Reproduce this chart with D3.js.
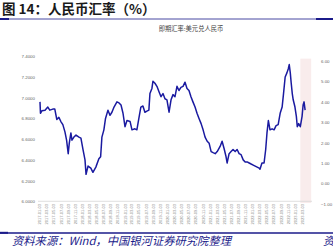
<!DOCTYPE html>
<html>
<head>
<meta charset="utf-8">
<script src="https://cdn.jsdelivr.net/npm/d3@7"></script>
<style>
  html, body { margin: 0; padding: 0; background: #fff; }
  svg { display: block; }
</style>
</head>
<body>
<div id="chart"></div>
<script>
// 即期汇率:美元兑人民币
var dates = [
  "2017-01-03","2017-01-07","2017-01-20","2017-02-15","2017-03-11","2017-03-28","2017-04-23","2017-05-10",
  "2017-05-27","2017-06-14","2017-07-01","2017-07-18","2017-08-05","2017-08-19","2017-09-02","2017-09-11",
  "2017-09-25","2017-10-04","2017-10-21","2017-11-08","2017-12-03","2017-12-20","2018-01-07","2018-01-24",
  "2018-02-02","2018-02-19","2018-03-15","2018-04-02","2018-04-27","2018-05-23","2018-06-07","2018-06-18",
  "2018-07-05","2018-07-19","2018-08-09","2018-08-26","2018-09-12","2018-09-30","2018-10-25","2018-11-12",
  "2018-11-29","2018-12-16","2019-01-02","2019-01-19","2019-02-15","2019-03-03","2019-03-28","2019-04-14",
  "2019-05-01","2019-05-18","2019-06-05","2019-06-22","2019-07-09","2019-07-26","2019-08-04","2019-08-21",
  "2019-08-30","2019-09-16","2019-10-03","2019-10-20","2019-11-07","2019-11-24","2019-12-11","2019-12-28",
  "2020-01-15","2020-02-01","2020-02-18","2020-03-06","2020-03-23","2020-04-09","2020-04-26","2020-05-14",
  "2020-05-31","2020-06-17","2020-07-04","2020-07-21","2020-08-07","2020-08-25","2020-09-11","2020-09-28",
  "2020-10-16","2020-11-02","2020-11-19","2020-12-07","2020-12-24","2021-01-10","2021-01-27","2021-02-14",
  "2021-03-03","2021-03-28","2021-04-14","2021-05-01","2021-05-18","2021-05-27","2021-06-13","2021-06-30",
  "2021-07-17","2021-08-04","2021-08-21","2021-09-07","2021-09-24","2021-10-12","2021-10-29","2021-11-15",
  "2021-12-02","2021-12-19","2022-01-06","2022-01-23","2022-02-09","2022-02-26","2022-03-05","2022-03-22",
  "2022-04-09","2022-04-23","2022-05-04","2022-05-16","2022-05-30","2022-06-17","2022-07-04","2022-07-21",
  "2022-08-08","2022-08-25","2022-09-11","2022-09-23","2022-10-07","2022-10-22","2022-11-03","2022-11-11",
  "2022-11-20","2022-11-28","2022-12-07","2022-12-15","2022-12-30","2023-01-11","2023-01-19","2023-01-31",
  "2023-02-14","2023-03-01","2023-03-10","2023-03-18","2023-03-27"
];
var rates = [
  6.96,6.85,6.875,6.88,6.91,6.88,6.89,6.89,
  6.79,6.81,6.77,6.74,6.67,6.59,6.46,6.56,
  6.66,6.59,6.62,6.64,6.62,6.61,6.50,6.40,
  6.26,6.34,6.32,6.28,6.33,6.41,6.43,6.62,
  6.69,6.80,6.88,6.83,6.86,6.91,6.96,6.95,
  6.93,6.85,6.72,6.78,6.77,6.69,6.70,6.69,
  6.80,6.91,6.92,6.86,6.87,6.88,7.04,7.09,
  7.16,7.14,7.11,7.06,7.01,7.04,6.99,6.98,
  6.86,6.98,7.03,7.01,7.11,7.07,7.10,7.11,
  7.15,7.09,7.07,7.01,6.96,6.91,6.85,6.80,
  6.75,6.69,6.62,6.58,6.56,6.48,6.47,6.46,
  6.48,6.53,6.58,6.51,6.43,6.37,6.46,6.48,
  6.50,6.48,6.50,6.46,6.45,6.40,6.38,6.38,
  6.37,6.36,6.35,6.34,6.33,6.32,6.31,6.37,
  6.37,6.50,6.66,6.78,6.69,6.70,6.69,6.73,
  6.74,6.85,6.91,7.04,7.20,7.24,7.28,7.32,
  7.24,7.14,7.04,6.98,6.91,6.82,6.72,6.75,
  6.72,6.82,6.93,6.96,6.88
];
var xTickLabels = [];
var leftTicks = [6.0, 6.2, 6.4, 6.6, 6.8, 7.0, 7.2, 7.4];
var rightTicks = [-1, 0, 1, 2, 3, 4, 5, 6];
var shadeRange = ["2023-02-14", "2023-05-18"];
(function () {
  // 2017-01-03 起每两个月一个刻度
  for (var i = 0; i < 38; i++) {
    var m = i * 2, y = 2017 + Math.floor(m / 12), mm = (m % 12) + 1;
    xTickLabels.push(y + "-" + (mm < 10 ? "0" + mm : mm) + "-03");
  }
})();

var width = 333, height = 247;
var parse = d3.timeParse("%Y-%m-%d");
var navy = "#1b1b8a";

var svg = d3.select("#chart").append("svg")
  .attr("width", width)
  .attr("height", height);

// 标题
svg.append("text")
  .attr("x", 2).attr("y", 14)
  .style("font-family", "'Noto Sans CJK SC', sans-serif")
  .style("font-weight", "bold")
  .style("font-size", "13.5px")
  .style("fill", "#1a1a1a")
  .text("图 14：人民币汇率（%）");

// 标题下分隔线
svg.append("line").attr("x1", 0).attr("x2", width).attr("y1", 19).attr("y2", 19)
  .style("stroke", navy).style("stroke-width", 0.8);
svg.append("line").attr("x1", 0).attr("x2", 9).attr("y1", 19).attr("y2", 19)
  .style("stroke", navy).style("stroke-width", 2);
svg.append("line").attr("x1", 316).attr("x2", width).attr("y1", 19).attr("y2", 19)
  .style("stroke", navy).style("stroke-width", 2);

// 图内标题
svg.append("text")
  .attr("x", 191).attr("y", 31)
  .attr("text-anchor", "middle")
  .style("font-family", "'Noto Sans CJK SC', sans-serif")
  .style("font-size", "6.3px")
  .style("fill", "#444")
  .text("即期汇率:美元兑人民币");

// 比例尺
var x = d3.scaleTime()
  .domain([parse("2017-01-03"), parse("2023-03-03")])
  .range([40, 302.3]);
var yL = d3.scaleLinear().domain([6.0, 7.4]).range([201.3, 56.3]);
var yR = d3.scaleLinear().domain([-1, 6]).range([204, 60.7]);

// 阴影区域
svg.append("rect")
  .attr("x", x(parse(shadeRange[0])))
  .attr("width", x(parse(shadeRange[1])) - x(parse(shadeRange[0])))
  .attr("y", yR(6.1))
  .attr("height", yR(-0.95) - yR(6.1))
  .style("fill", "#f9ecec");

// 基线
svg.append("line")
  .attr("x1", 38).attr("x2", 312)
  .attr("y1", yL(6.0)).attr("y2", yL(6.0))
  .style("stroke", "#d8d8d8").style("stroke-width", 0.8);

// 左轴
var leftAxis = d3.axisLeft(yL).tickValues(leftTicks).tickSize(0).tickPadding(0)
  .tickFormat(d3.format(".4f"));
var gL = svg.append("g").attr("transform", "translate(35,0)").call(leftAxis);
gL.select(".domain").remove();
gL.selectAll("text")
  .style("font-family", "'Liberation Sans', Arial, sans-serif")
  .style("font-size", "4.4px")
  .style("fill", "#666");

// 右轴
var rightAxis = d3.axisRight(yR).tickValues(rightTicks).tickSize(0).tickPadding(0)
  .tickFormat(d3.format(".2f"));
var gR = svg.append("g").attr("transform", "translate(321,0)").call(rightAxis);
gR.select(".domain").remove();
gR.selectAll("text")
  .style("font-family", "'Liberation Sans', Arial, sans-serif")
  .style("font-size", "4.4px")
  .style("fill", "#666");

// x轴标签(竖排)
svg.append("g").selectAll("text")
  .data(xTickLabels)
  .enter().append("text")
  .attr("transform", function (d) {
    return "translate(" + (x(parse(d)) + 1.4) + ",204) rotate(-90)";
  })
  .attr("text-anchor", "end")
  .style("font-family", "'Liberation Sans', Arial, sans-serif")
  .style("font-size", "4px")
  .style("fill", "#888")
  .text(function (d) { return d; });

// 汇率曲线
var series = dates.map(function (d, i) { return { date: parse(d), value: rates[i] }; });
var line = d3.line()
  .x(function (d) { return x(d.date); })
  .y(function (d) { return yL(d.value); });
svg.append("path")
  .datum(series)
  .attr("d", line)
  .style("fill", "none")
  .style("stroke", "#1a1aa0")
  .style("stroke-width", 1.5)
  .style("stroke-linejoin", "round");

// 底部分隔线
svg.append("line").attr("x1", 0).attr("x2", width).attr("y1", 233).attr("y2", 233)
  .style("stroke", navy).style("stroke-width", 1.3);
svg.append("line").attr("x1", 0).attr("x2", 8).attr("y1", 232.8).attr("y2", 232.8)
  .style("stroke", navy).style("stroke-width", 2);

// 资料来源
var srcStyle = function (sel) {
  sel.style("font-family", "'Noto Sans CJK SC', sans-serif")
    .style("font-style", "italic")
    .style("font-size", "11.3px")
    .style("fill", navy);
};
svg.append("text").attr("x", 12).attr("y", 245)
  .call(srcStyle)
  .text("资料来源：Wind，中国银河证券研究院整理");
svg.append("text").attr("x", 323).attr("y", 245)
  .call(srcStyle)
  .text("资");
</script>
</body>
</html>
